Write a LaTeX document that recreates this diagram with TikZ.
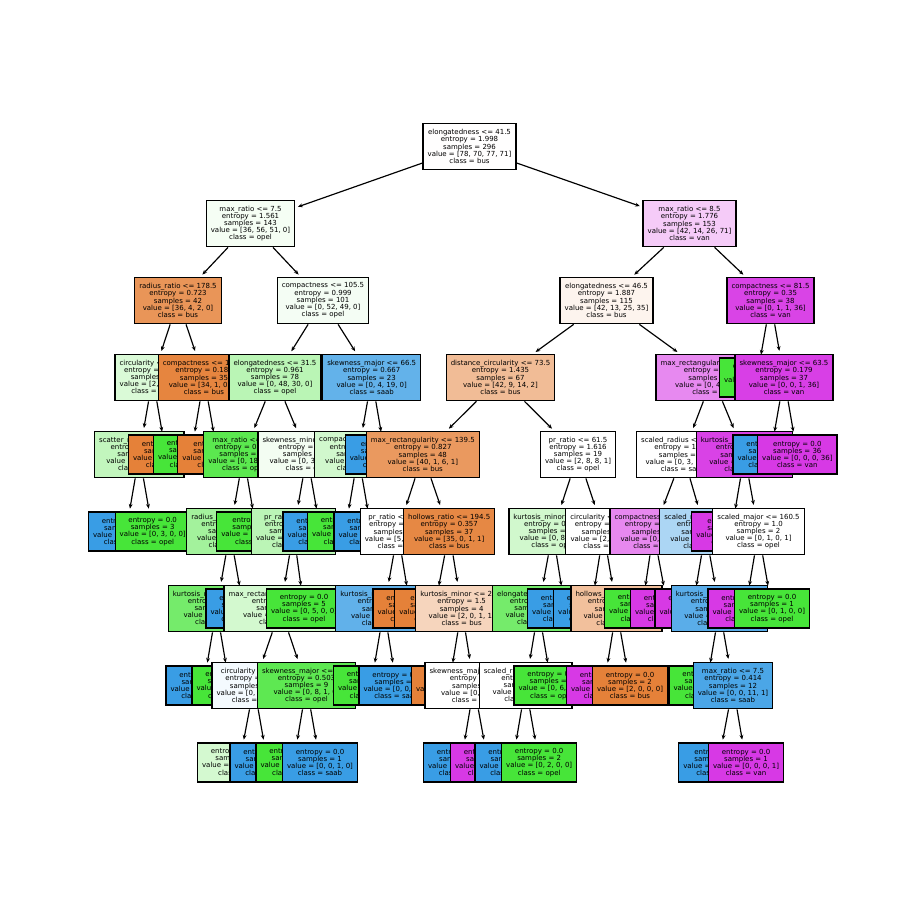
\documentclass[tikz,border=0pt]{standalone}
\usepackage{fontspec}
\newfontfamily\treefont{DejaVu Sans}
\usetikzlibrary{arrows.meta}

% class colours
\definecolor{bus}{RGB}{229,129,57}
\definecolor{opel}{RGB}{71,229,57}
\definecolor{saab}{RGB}{57,157,229}
\definecolor{van}{RGB}{215,57,229}

% split and leaf texts
\newcommand\splittext[5]{#1\\entropy = #2\\samples = #3\\value = [#4]\\class = #5}
\newcommand\leaftext[4]{entropy = #1\\samples = #2\\value = [#3]\\class = #4}

\tikzset{
  box/.style={draw=black, line width=0.9pt, inner xsep=3.3pt, inner ysep=1pt,
    align=center, text=black, font={\treefont\fontsize{5.05}{5.2}\selectfont}},
  split/.style={box, minimum height=33.6pt},
  leaf/.style={box, minimum height=28.2pt},
  conn/.style={-{Stealth[length=3.4pt,width=2.8pt]}, line width=0.85pt, shorten >=2pt}
}

\begin{document}
\begin{tikzpicture}[x=0.7227pt, y=-0.7227pt]
\fill[white] (0,0) rectangle (900,900);
\useasboundingbox (0,0) rectangle (900,900);

% depth 0
\node[split, fill=bus!0.5!white] (t) at (469.5,146.5) {\splittext{elongatedness <= 41.5}{1.998}{296}{78, 70, 77, 71}{bus}};

% ---------- left half ----------
\node[split, fill=opel!5.4!white] (tL) at (250.5,223.5) {\splittext{max\_ratio <= 7.5}{1.561}{143}{36, 56, 51, 0}{opel}};
\draw[conn] (t) -- (tL);

\node[split, fill=bus!84.2!white] (tLL) at (178,300.5) {\splittext{radius\_ratio <= 178.5}{0.723}{42}{36, 4, 2, 0}{bus}};
\draw[conn] (tL) -- (tLL);

\node[split, fill=opel!20!white] (tLLL) at (152.7,377.5) {\splittext{circularity <= 44.5}{1.557}{7}{2, 3, 2, 0}{opel}};
\draw[conn] (tLL) -- (tLLL);

\node[split, fill=opel!33.3!white] (tLLLL) at (139.3,454.5) {\splittext{scatter\_ratio <= 145.5}{0.971}{5}{0, 3, 2, 0}{opel}};
\draw[conn] (tLLL) -- (tLLLL);
\node[leaf, fill=saab] (tLLLLL) at (126,531.5) {\leaftext{0.0}{2}{0, 0, 2, 0}{saab}};
\draw[conn] (tLLLL) -- (tLLLLL);
\node[leaf, fill=opel] (tLLLLR) at (152.7,531.5) {\leaftext{0.0}{3}{0, 3, 0, 0}{opel}};
\draw[conn] (tLLLL) -- (tLLLLR);

\node[leaf, fill=bus] (tLLLR) at (166,454.5) {\leaftext{0.0}{2}{2, 0, 0, 0}{bus}};
\draw[conn] (tLLL) -- (tLLLR);

\node[split, fill=bus!97.1!white] (tLLR) at (204,377.5) {\splittext{compactness <= 109.5}{0.187}{35}{34, 1, 0, 0}{bus}};
\draw[conn] (tLL) -- (tLLR);
\node[leaf, fill=opel] (tLLRL) at (191,454.5) {\leaftext{0.0}{1}{0, 1, 0, 0}{opel}};
\draw[conn] (tLLR) -- (tLLRL);
\node[leaf, fill=bus] (tLLRR) at (217.5,454.5) {\leaftext{0.0}{34}{34, 0, 0, 0}{bus}};
\draw[conn] (tLLR) -- (tLLRR);

\node[split, fill=opel!5.8!white] (tLR) at (323,300.5) {\splittext{compactness <= 105.5}{0.999}{101}{0, 52, 49, 0}{opel}};
\draw[conn] (tL) -- (tLR);

\node[split, fill=opel!37.5!white] (tLRL) at (275,377.5) {\splittext{elongatedness <= 31.5}{0.961}{78}{0, 48, 30, 0}{opel}};
\draw[conn] (tLR) -- (tLRL);

\node[split, fill=opel!88.9!white] (tLRLL) at (243.5,454.5) {\splittext{max\_ratio <= 6.5}{0.469}{20}{0, 18, 2, 0}{opel}};
\draw[conn] (tLRL) -- (tLRLL);
\node[split, fill=opel!50!white] (tLRLLL) at (230,531.5) {\splittext{radius\_ratio <= 160.5}{0.918}{6}{0, 4, 2, 0}{opel}};
\draw[conn] (tLRLL) -- (tLRLLL);
\node[split, fill=opel!75!white] (tLRLLLL) at (216.5,608.5) {\splittext{kurtosis\_major <= 188.5}{0.722}{5}{0, 4, 1, 0}{opel}};
\draw[conn] (tLRLLL) -- (tLRLLLL);
\node[leaf, fill=saab] (tLRLLLLL) at (203.5,685.5) {\leaftext{0.0}{1}{0, 0, 1, 0}{saab}};
\draw[conn] (tLRLLLL) -- (tLRLLLLL);
\node[leaf, fill=opel] (tLRLLLLR) at (229.5,685.5) {\leaftext{0.0}{4}{0, 4, 0, 0}{opel}};
\draw[conn] (tLRLLLL) -- (tLRLLLLR);
\node[leaf, fill=saab] (tLRLLLR) at (243.5,608.5) {\leaftext{0.0}{1}{0, 0, 1, 0}{saab}};
\draw[conn] (tLRLLL) -- (tLRLLLR);
\node[leaf, fill=opel] (tLRLLR) at (256.5,531.5) {\leaftext{0.0}{14}{0, 14, 0, 0}{opel}};
\draw[conn] (tLRLL) -- (tLRLLR);

\node[split, fill=opel!6.7!white] (tLRLR) at (307,454.5) {\splittext{skewness\_minor <= 11.5}{0.999}{58}{0, 30, 28, 0}{opel}};
\draw[conn] (tLRL) -- (tLRLR);
\node[split, fill=opel!36.7!white] (tLRLRL) at (293.5,531.5) {\splittext{pr\_ratio <= 66.5}{0.963}{49}{0, 30, 19, 0}{opel}};
\draw[conn] (tLRLR) -- (tLRLRL);
\node[split, fill=opel!24!white] (tLRLRLL) at (280.5,608.5) {\splittext{max\_rectangularity <= 145.5}{0.987}{44}{0, 25, 19, 0}{opel}};
\draw[conn] (tLRLRL) -- (tLRLRLL);
\node[split, fill=saab!5.6!white] (tLRLRLLL) at (254,685.5) {\splittext{circularity <= 49.5}{0.999}{35}{0, 17, 18, 0}{saab}};
\draw[conn] (tLRLRLL) -- (tLRLRLLL);
\node[leaf, fill=opel!23.5!white] (tLRLRLLLL) at (239.5,762.5) {\leaftext{0.987}{30}{0, 17, 13, 0}{opel}};
\draw[conn] (tLRLRLLL) -- (tLRLRLLLL);
\node[leaf, fill=saab] (tLRLRLLLR) at (267.5,762.5) {\leaftext{0.0}{5}{0, 0, 5, 0}{saab}};
\draw[conn] (tLRLRLLL) -- (tLRLRLLLR);
\node[split, fill=opel!87.5!white] (tLRLRLLR) at (306.5,685.5) {\splittext{skewness\_major <= 73.5}{0.503}{9}{0, 8, 1, 0}{opel}};
\draw[conn] (tLRLRLL) -- (tLRLRLLR);
\node[leaf, fill=opel] (tLRLRLLRL) at (293.5,762.5) {\leaftext{0.0}{8}{0, 8, 0, 0}{opel}};
\draw[conn] (tLRLRLLR) -- (tLRLRLLRL);
\node[leaf, fill=saab] (tLRLRLLRR) at (320,762.5) {\leaftext{0.0}{1}{0, 0, 1, 0}{saab}};
\draw[conn] (tLRLRLLR) -- (tLRLRLLRR);
\node[leaf, fill=opel] (tLRLRLR) at (304,608.5) {\leaftext{0.0}{5}{0, 5, 0, 0}{opel}};
\draw[conn] (tLRLRL) -- (tLRLRLR);
\node[leaf, fill=saab] (tLRLRR) at (320.5,531.5) {\leaftext{0.0}{9}{0, 0, 9, 0}{saab}};
\draw[conn] (tLRLR) -- (tLRLRR);

\node[split, fill=saab!79!white] (tLRR) at (371.7,377.5) {\splittext{skewness\_major <= 66.5}{0.667}{23}{0, 4, 19, 0}{saab}};
\draw[conn] (tLR) -- (tLRR);
\node[split, fill=opel!25!white] (tLRRL) at (358.2,454.5) {\splittext{compactness <= 91.5}{0.985}{7}{0, 4, 3, 0}{opel}};
\draw[conn] (tLRR) -- (tLRRL);
\node[leaf, fill=opel] (tLRRLL) at (345,531.5) {\leaftext{0.0}{4}{0, 4, 0, 0}{opel}};
\draw[conn] (tLRRL) -- (tLRRLL);
\node[leaf, fill=saab] (tLRRLR) at (371.5,531.5) {\leaftext{0.0}{3}{0, 0, 3, 0}{saab}};
\draw[conn] (tLRRL) -- (tLRRLR);
\node[leaf, fill=saab] (tLRRR) at (385,454.5) {\leaftext{0.0}{16}{0, 0, 16, 0}{saab}};
\draw[conn] (tLRR) -- (tLRRR);

% ---------- right half ----------
\node[split, fill=van!26.1!white] (tR) at (689.5,223.5) {\splittext{max\_ratio <= 8.5}{1.776}{153}{42, 14, 26, 71}{van}};
\draw[conn] (t) -- (tR);

\node[split, fill=bus!8.8!white] (tRL) at (606.5,300.5) {\splittext{elongatedness <= 46.5}{1.887}{115}{42, 13, 25, 35}{bus}};
\draw[conn] (tR) -- (tRL);

\node[split, fill=bus!52.8!white] (tRLL) at (500.5,377.5) {\splittext{distance\_circularity <= 73.5}{1.435}{67}{42, 9, 14, 2}{bus}};
\draw[conn] (tRL) -- (tRLL);

\node[split, fill=bus!81!white] (tRLLL) at (422.8,454.5) {\splittext{max\_rectangularity <= 139.5}{0.827}{48}{40, 1, 6, 1}{bus}};
\draw[conn] (tRLL) -- (tRLLL);
\node[split, fill=white] (tRLLLL) at (397.8,531.5) {\splittext{pr\_ratio <= 65.5}{1.349}{11}{5, 1, 5, 0}{bus}};
\draw[conn] (tRLLL) -- (tRLLLL);
\node[split, fill=saab!80!white] (tRLLLLL) at (384,608.5) {\splittext{kurtosis\_major <= 186.5}{0.65}{6}{0, 1, 5, 0}{saab}};
\draw[conn] (tRLLLL) -- (tRLLLLL);
\node[leaf, fill=opel] (tRLLLLLL) at (371,685.5) {\leaftext{0.0}{1}{0, 1, 0, 0}{opel}};
\draw[conn] (tRLLLLL) -- (tRLLLLLL);
\node[leaf, fill=saab] (tRLLLLLR) at (396.5,685.5) {\leaftext{0.0}{5}{0, 0, 5, 0}{saab}};
\draw[conn] (tRLLLLL) -- (tRLLLLLR);
\node[leaf, fill=bus] (tRLLLLR) at (410.5,608.5) {\leaftext{0.0}{5}{5, 0, 0, 0}{bus}};
\draw[conn] (tRLLLL) -- (tRLLLLR);

\node[split, fill=bus!94.4!white] (tRLLLR) at (449.2,531.5) {\splittext{hollows\_ratio <= 194.5}{0.357}{37}{35, 0, 1, 1}{bus}};
\draw[conn] (tRLLL) -- (tRLLLR);
\node[leaf, fill=bus] (tRLLLRL) at (434.5,608.5) {\leaftext{0.0}{33}{33, 0, 0, 0}{bus}};
\draw[conn] (tRLLLR) -- (tRLLLRL);
\node[split, fill=bus!33.3!white] (tRLLLRR) at (461.7,608.5) {\splittext{kurtosis\_minor <= 23.5}{1.5}{4}{2, 0, 1, 1}{bus}};
\draw[conn] (tRLLLR) -- (tRLLLRR);
\node[leaf, fill=bus] (tRLLLRRL) at (449,685.5) {\leaftext{0.0}{2}{2, 0, 0, 0}{bus}};
\draw[conn] (tRLLLRR) -- (tRLLLRRL);
\node[split, fill=white] (tRLLLRRR) at (474,685.5) {\splittext{skewness\_major <= 70.5}{1.0}{2}{0, 0, 1, 1}{saab}};
\draw[conn] (tRLLLRR) -- (tRLLLRRR);
\node[leaf, fill=saab] (tRLLLRRRL) at (461,762.5) {\leaftext{0.0}{1}{0, 0, 1, 0}{saab}};
\draw[conn] (tRLLLRRR) -- (tRLLLRRRL);
\node[leaf, fill=van] (tRLLLRRRR) at (488,762.5) {\leaftext{0.0}{1}{0, 0, 0, 1}{van}};
\draw[conn] (tRLLLRRR) -- (tRLLLRRRR);

\node[split, fill=white] (tRLLR) at (578,454.5) {\splittext{pr\_ratio <= 61.5}{1.616}{19}{2, 8, 8, 1}{opel}};
\draw[conn] (tRLL) -- (tRLLR);
\node[split, fill=opel!25!white] (tRLLRL) at (552.7,531.5) {\splittext{kurtosis\_minor <= 8.5}{0.985}{14}{0, 8, 6, 0}{opel}};
\draw[conn] (tRLLR) -- (tRLLRL);
\node[split, fill=opel!75!white] (tRLLRLL) at (538.5,608.5) {\splittext{elongatedness <= 36.5}{0.722}{10}{0, 8, 2, 0}{opel}};
\draw[conn] (tRLLRL) -- (tRLLRLL);
\node[split, fill=white] (tRLLRLLL) at (525.6,685.5) {\splittext{scaled\_radius <= 154.5}{1.0}{4}{0, 2, 2, 0}{opel}};
\draw[conn] (tRLLRLL) -- (tRLLRLLL);
\node[leaf, fill=saab] (tRLLRLLLL) at (512.5,762.5) {\leaftext{0.0}{2}{0, 0, 2, 0}{saab}};
\draw[conn] (tRLLRLLL) -- (tRLLRLLLL);
\node[leaf, fill=opel] (tRLLRLLLR) at (539.2,762.5) {\leaftext{0.0}{2}{0, 2, 0, 0}{opel}};
\draw[conn] (tRLLRLLL) -- (tRLLRLLLR);
\node[leaf, fill=opel] (tRLLRLLR) at (551.5,685.5) {\leaftext{0.0}{6}{0, 6, 0, 0}{opel}};
\draw[conn] (tRLLRLL) -- (tRLLRLLR);
\node[leaf, fill=saab] (tRLLRLR) at (565,608.5) {\leaftext{0.0}{4}{0, 0, 4, 0}{saab}};
\draw[conn] (tRLLRL) -- (tRLLRLR);
\node[split, fill=white] (tRLLRR) at (603.5,531.5) {\splittext{circularity <= 44.5}{1.522}{5}{2, 0, 2, 1}{bus}};
\draw[conn] (tRLLR) -- (tRLLRR);
\node[leaf, fill=saab] (tRLLRRL) at (591.2,608.5) {\leaftext{0.0}{2}{0, 0, 2, 0}{saab}};
\draw[conn] (tRLLRR) -- (tRLLRRL);
\node[split, fill=bus!50!white] (tRLLRRR) at (616.5,608.5) {\splittext{hollows\_ratio <= 197.5}{0.918}{3}{2, 0, 0, 1}{bus}};
\draw[conn] (tRLLRR) -- (tRLLRRR);
\node[leaf, fill=van] (tRLLRRRL) at (604,685.5) {\leaftext{0.0}{1}{0, 0, 0, 1}{van}};
\draw[conn] (tRLLRRR) -- (tRLLRRRL);
\node[leaf, fill=bus] (tRLLRRRR) at (630,685.5) {\leaftext{0.0}{2}{2, 0, 0, 0}{bus}};
\draw[conn] (tRLLRRR) -- (tRLLRRRR);

\node[split, fill=van!59.5!white] (tRLR) at (712.5,377.5) {\splittext{max\_rectangularity <= 136.5}{1.158}{48}{0, 4, 11, 33}{van}};
\draw[conn] (tRL) -- (tRLR);
\node[split, fill=white] (tRLRL) at (683,454.5) {\splittext{scaled\_radius <= 165.5}{1.409}{25}{0, 3, 11, 11}{saab}};
\draw[conn] (tRLR) -- (tRLRL);
\node[split, fill=van!60!white] (tRLRLL) at (653.5,531.5) {\splittext{compactness <= 92.5}{0.863}{7}{0, 2, 0, 5}{van}};
\draw[conn] (tRLRL) -- (tRLRLL);
\node[leaf, fill=opel] (tRLRLLL) at (642,608.5) {\leaftext{0.0}{2}{0, 2, 0, 0}{opel}};
\draw[conn] (tRLRLL) -- (tRLRLLL);
\node[leaf, fill=van] (tRLRLLR) at (668,608.5) {\leaftext{0.0}{5}{0, 0, 0, 5}{van}};
\draw[conn] (tRLRLL) -- (tRLRLLR);
\node[split, fill=saab!41.7!white] (tRLRLR) at (705.5,531.5) {\splittext{scaled\_minor <= 337.5}{1.194}{18}{0, 1, 11, 6}{saab}};
\draw[conn] (tRLRL) -- (tRLRLR);
\node[leaf, fill=van] (tRLRLRL) at (692.5,608.5) {\leaftext{0.0}{5}{0, 0, 0, 5}{van}};
\draw[conn] (tRLRLR) -- (tRLRLRL);
\node[split, fill=saab!83.3!white] (tRLRLRR) at (719.5,608.5) {\splittext{kurtosis\_major <= 190.5}{0.773}{13}{0, 1, 11, 1}{saab}};
\draw[conn] (tRLRLR) -- (tRLRLRR);
\node[leaf, fill=opel] (tRLRLRRL) at (706.5,685.5) {\leaftext{0.0}{1}{0, 1, 0, 0}{opel}};
\draw[conn] (tRLRLRR) -- (tRLRLRRL);
\node[split, fill=saab!90.9!white] (tRLRLRRR) at (733,685.5) {\splittext{max\_ratio <= 7.5}{0.414}{12}{0, 0, 11, 1}{saab}};
\draw[conn] (tRLRLRR) -- (tRLRLRRR);
\node[leaf, fill=saab] (tRLRLRRRL) at (718.5,762.5) {\leaftext{0.0}{11}{0, 0, 11, 0}{saab}};
\draw[conn] (tRLRLRRR) -- (tRLRLRRRL);
\node[leaf, fill=van] (tRLRLRRRR) at (746,762.5) {\leaftext{0.0}{1}{0, 0, 0, 1}{van}};
\draw[conn] (tRLRLRRR) -- (tRLRLRRRR);

\node[split, fill=van!95.5!white] (tRLRR) at (744.5,454.5) {\splittext{kurtosis\_major <= 187.5}{0.258}{23}{0, 1, 0, 22}{van}};
\draw[conn] (tRLR) -- (tRLRR);
\node[leaf, fill=van] (tRLRRL) at (731.5,531.5) {\leaftext{0.0}{21}{0, 0, 0, 21}{van}};
\draw[conn] (tRLRR) -- (tRLRRL);
\node[split, fill=white] (tRLRRR) at (758.5,531.5) {\splittext{scaled\_major <= 160.5}{1.0}{2}{0, 1, 0, 1}{opel}};
\draw[conn] (tRLRR) -- (tRLRRR);
\node[leaf, fill=van] (tRLRRRL) at (745.5,608.5) {\leaftext{0.0}{1}{0, 0, 0, 1}{van}};
\draw[conn] (tRLRRR) -- (tRLRRRL);
\node[leaf, fill=opel] (tRLRRRR) at (772,608.5) {\leaftext{0.0}{1}{0, 1, 0, 0}{opel}};
\draw[conn] (tRLRRR) -- (tRLRRRR);

\node[split, fill=van!94.6!white] (tRR) at (770.5,300.5) {\splittext{compactness <= 81.5}{0.35}{38}{0, 1, 1, 36}{van}};
\draw[conn] (tR) -- (tRR);
\node[leaf, fill=opel] (tRRL) at (757,377.5) {\leaftext{0.0}{1}{0, 1, 0, 0}{opel}};
\draw[conn] (tRR) -- (tRRL);
\node[split, fill=van!97.2!white] (tRRR) at (784,377.5) {\splittext{skewness\_major <= 63.5}{0.179}{37}{0, 0, 1, 36}{van}};
\draw[conn] (tRR) -- (tRRR);
\node[leaf, fill=saab] (tRRRL) at (770.5,454.5) {\leaftext{0.0}{1}{0, 0, 1, 0}{saab}};
\draw[conn] (tRRR) -- (tRRRL);
\node[leaf, fill=van] (tRRRR) at (797.3,454.5) {\leaftext{0.0}{36}{0, 0, 0, 36}{van}};
\draw[conn] (tRRR) -- (tRRRR);

\end{tikzpicture}
\end{document}
